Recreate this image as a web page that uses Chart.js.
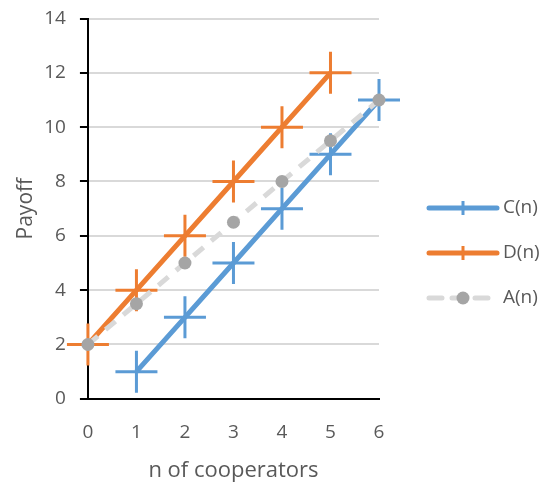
<!DOCTYPE html>
<html lang="en">
<head>
    <meta charset="UTF-8">
    <title>Payoff</title>
    <script src="https://cdn.jsdelivr.net/npm/chart.js"></script>
    <style>
        body { margin: 0; background: #fff; }
        #payoffChart { display: block; }
    </style>
</head>
<body>
    <canvas id="payoffChart" width="545" height="484"></canvas>

    <script>
        // datos del gráfico
        const nC = [1, 2, 3, 4, 5, 6];
        const valuesC = [1, 3, 5, 7, 9, 11];
        const nD = [0, 1, 2, 3, 4, 5];
        const valuesD = [2, 4, 6, 8, 10, 12];
        const nA = [0, 1, 2, 3, 4, 5, 6];
        const valuesA = [2, 3.5, 5, 6.5, 8, 9.5, 11];
        const seriesLabels = ['C(n)', 'D(n)', 'A(n)'];

        const toPoints = (xs, ys) => xs.map((x, i) => ({ x: x, y: ys[i] }));

        const textColor = '#595959';
        const font = 'Open Sans';

        // leyenda a la derecha, dibujada a mano
        const sideLegend = {
            id: 'sideLegend',
            afterDraw(chart) {
                const ctx = chart.ctx;
                const rows = [208, 253, 298];
                chart.data.datasets.forEach((ds, i) => {
                    const y = rows[i];
                    ctx.save();
                    ctx.strokeStyle = ds.borderColor;
                    ctx.lineWidth = ds.borderWidth;
                    ctx.lineCap = 'round';
                    ctx.setLineDash(ds.borderDash ? [13, 10] : []);
                    ctx.beginPath();
                    ctx.moveTo(429, y);
                    ctx.lineTo(497, y);
                    ctx.stroke();
                    ctx.setLineDash([]);
                    if (ds.pointStyle === 'cross') {
                        ctx.lineWidth = 3;
                        ctx.lineCap = 'butt';
                        ctx.beginPath();
                        ctx.moveTo(463, y - 7);
                        ctx.lineTo(463, y + 7);
                        ctx.stroke();
                    } else {
                        ctx.fillStyle = ds.pointBackgroundColor;
                        ctx.beginPath();
                        ctx.arc(463, y, 6.5, 0, Math.PI * 2);
                        ctx.fill();
                    }
                    ctx.fillStyle = textColor;
                    ctx.font = '19px "' + font + '"';
                    ctx.textBaseline = 'middle';
                    ctx.fillText(ds.label, 503, y);
                    ctx.restore();
                });
            }
        };

        const ctx = document.getElementById('payoffChart').getContext('2d');
        new Chart(ctx, {
            type: 'line',
            data: {
                datasets: [{
                    label: seriesLabels[0],
                    data: toPoints(nC, valuesC),
                    borderColor: '#5B9BD5',
                    borderWidth: 5,
                    pointStyle: 'cross',
                    pointRadius: 21,
                    pointBorderWidth: 3,
                    pointBorderColor: '#5B9BD5',
                    pointBackgroundColor: '#5B9BD5',
                    order: 3
                }, {
                    label: seriesLabels[1],
                    data: toPoints(nD, valuesD),
                    borderColor: '#ED7D31',
                    borderWidth: 5,
                    pointStyle: 'cross',
                    pointRadius: 21,
                    pointBorderWidth: 3,
                    pointBorderColor: '#ED7D31',
                    pointBackgroundColor: '#ED7D31',
                    order: 2
                }, {
                    label: seriesLabels[2],
                    data: toPoints(nA, valuesA),
                    borderColor: '#D9D9D9',
                    borderWidth: 5,
                    borderDash: [13, 10],
                    pointStyle: 'circle',
                    pointRadius: 6.5,
                    pointBorderWidth: 0,
                    pointBackgroundColor: '#A5A5A5',
                    order: 1
                }]
            },
            options: {
                responsive: false,
                animation: false,
                clip: false,
                layout: { autoPadding: false, padding: { top: 0, right: 166, bottom: 0, left: 3 } },
                plugins: {
                    legend: { display: false },
                    tooltip: { enabled: false }
                },
                scales: {
                    x: {
                        type: 'linear',
                        min: 0,
                        max: 6,
                        ticks: { stepSize: 1, color: textColor, font: { family: font, size: 19 }, padding: 22 },
                        grid: { display: false, drawTicks: false },
                        border: { color: '#000', width: 2 },
                        title: { display: true, text: 'n of cooperators', color: textColor, font: { family: font, size: 22 }, padding: { top: -8, bottom: 0 } }
                    },
                    y: {
                        min: 0,
                        max: 14,
                        ticks: { stepSize: 2, color: textColor, font: { family: font, size: 19 }, padding: 14 },
                        grid: { color: '#D9D9D9', lineWidth: 2, tickLength: 8, tickColor: '#000', tickWidth: 2 },
                        border: { color: '#000', width: 2 },
                        title: { display: true, text: 'Payoff', color: textColor, font: { family: font, size: 21 }, padding: { top: 10, bottom: -8 } },
                        // el margen superior lo fijamos a mano
                        afterFit(scale) { scale.paddingTop = 18.5; }
                    }
                }
            },
            plugins: [sideLegend]
        });
    </script>
</body>
</html>
